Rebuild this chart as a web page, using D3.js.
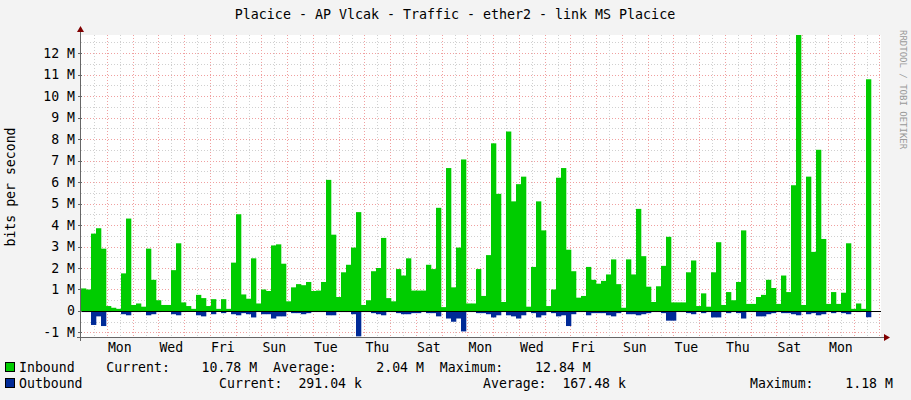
<!DOCTYPE html>
<html><head><meta charset="utf-8">
<script src="https://cdn.jsdelivr.net/npm/d3@7"></script>
<style>body{margin:0;background:#f3f3f3}text{font-family:"DejaVu Sans Mono",monospace;white-space:pre}</style>
</head><body><svg id="c" width="911" height="400"></svg>
<script>
const inbound=[1.05,1.0,3.6,3.85,2.9,0.23,0.15,0.1,1.75,4.3,
0.28,0.35,0.2,2.9,1.45,0.5,0.28,0.28,1.9,3.15,
0.4,0.23,0.1,0.75,0.6,0.23,0.55,0.1,0.55,0.1,
2.25,4.5,0.77,0.57,2.45,0.35,1.0,0.93,3.05,3.1,
2.2,0.45,1.1,1.25,1.2,1.35,0.93,0.95,1.35,6.1,
3.55,0.65,1.8,2.15,2.95,4.6,0.28,0.5,1.85,2.0,
3.4,0.6,0.45,1.95,1.65,2.45,0.95,0.95,0.95,2.15,
1.95,4.8,0.18,6.65,1.1,2.95,7.05,0.35,0.35,1.95,
0.7,2.6,7.8,5.45,0.42,8.35,5.1,5.9,6.25,0.2,
2.05,5.1,3.75,0.23,1.0,6.2,6.65,2.85,1.85,0.62,
0.7,2.05,1.45,1.27,1.4,1.7,2.4,1.25,0.15,2.4,
1.7,4.75,2.55,1.13,0.42,1.15,2.1,3.45,0.4,0.4,
0.4,1.8,2.35,0.23,0.82,0.2,1.8,3.2,0.28,0.88,
0.5,1.35,3.75,0.33,0.33,0.65,0.75,1.45,1.07,0.33,
1.65,0.88,5.85,12.84,0.28,6.25,2.75,7.5,3.35,0.33,
0.88,0.33,0.85,3.15,0.1,0.35,0.1,10.78];
const outbound=[0.05,0.05,0.65,0.25,0.7,0.05,0.03,0.03,0.15,0.2,
0.05,0.05,0.03,0.2,0.15,0.05,0.03,0.03,0.15,0.2,
0.05,0.03,0.03,0.2,0.25,0.05,0.15,0.03,0.1,0.03,
0.15,0.2,0.1,0.15,0.3,0.05,0.15,0.15,0.35,0.25,
0.25,0.05,0.1,0.1,0.15,0.1,0.05,0.05,0.05,0.2,
0.2,0.05,0.05,0.05,0.15,1.18,0.05,0.05,0.1,0.15,
0.2,0.05,0.05,0.1,0.15,0.15,0.1,0.1,0.05,0.1,
0.1,0.25,0.03,0.35,0.5,0.35,0.95,0.05,0.05,0.1,
0.1,0.15,0.3,0.2,0.05,0.2,0.25,0.35,0.2,0.05,
0.1,0.3,0.2,0.05,0.1,0.25,0.2,0.7,0.15,0.05,
0.05,0.2,0.1,0.1,0.1,0.2,0.25,0.1,0.03,0.15,
0.15,0.2,0.15,0.1,0.05,0.05,0.1,0.45,0.45,0.05,
0.05,0.1,0.15,0.03,0.1,0.05,0.3,0.3,0.05,0.1,
0.05,0.1,0.35,0.05,0.05,0.25,0.25,0.15,0.1,0.05,
0.1,0.1,0.15,0.2,0.05,0.15,0.1,0.2,0.15,0.05,
0.1,0.05,0.1,0.15,0.03,0.05,0.03,0.29];
const dayLabels=["Mon","Wed","Fri","Sun","Tue","Thu","Sat","Mon","Wed","Fri","Sun","Tue","Thu","Sat","Mon"];
const yTicks=[-1,0,1,2,3,4,5,6,7,8,9,10,11,12];
const title="Placice - AP Vlcak - Traffic - ether2 - link MS Placice";
const legendIn="Inbound    Current:    10.78 M  Average:     2.04 M  Maximum:    12.84 M";
const legendOut=["Outbound","Current:  291.04 k","Average:  167.48 k","Maximum:    1.18 M"];

const svg=d3.select("#c");
const L=81,R=881,T=35,B=337;
const totalH=745.6, firstMidnight=24.2, barH=totalH/160;
const x=d3.scaleLinear().domain([0,totalH]).range([L,R]);
const y=d3.scaleLinear().domain([-1.21,12.84]).range([B,T]);
svg.append("rect").attr("x",L).attr("y",T).attr("width",R-L).attr("height",B-T).attr("fill","#fff");
const g=svg.append("g").attr("stroke-dasharray","1,2").attr("stroke-width",1);
for(let v=-1;v<=12.5;v+=0.5){const yy=Math.round(y(v))+0.5;
 g.append("line").attr("x1",L).attr("x2",R).attr("y1",yy).attr("y2",yy).attr("stroke",Number.isInteger(v)?"#f0a0a0":"#d0d0d0");}
for(let h=firstMidnight-12;h<totalH;h+=12){const xx=Math.round(x(h))+0.5;
 const major=Math.abs(((h-firstMidnight)/24)-Math.round((h-firstMidnight)/24))<0.01;
 g.append("line").attr("x1",xx).attr("x2",xx).attr("y1",T).attr("y2",B).attr("stroke",major?"#f0a0a0":"#d0d0d0");}
svg.append("g").selectAll("rect").data(inbound).join("rect")
 .attr("x",(d,i)=>x(i*barH)).attr("width",(d,i)=>x((i+1)*barH)-x(i*barH)+0.3)
 .attr("y",d=>y(d)).attr("height",d=>y(0)-y(d)).attr("fill","#00cc00");
svg.append("g").selectAll("rect").data(outbound).join("rect")
 .attr("x",(d,i)=>x(i*barH)).attr("width",(d,i)=>x((i+1)*barH)-x(i*barH)+0.3)
 .attr("y",y(0)).attr("height",d=>y(-d)-y(0)).attr("fill","#002a97");
svg.append("line").attr("x1",L).attr("x2",R).attr("y1",Math.round(y(0))+0.5).attr("y2",Math.round(y(0))+0.5).attr("stroke","#000").attr("stroke-width",1);
svg.append("line").attr("x1",L-0.5).attr("x2",L-0.5).attr("y1",B+4).attr("y2",T-4).attr("stroke","#666");
svg.append("line").attr("x1",L-4).attr("x2",R+4).attr("y1",B+0.5).attr("y2",B+0.5).attr("stroke","#666");
svg.append("path").attr("d",`M${L-4},${T-3}L${L+3},${T-3}L${L-0.5},${T-9}Z`).attr("fill","#800000");
svg.append("path").attr("d",`M${R+3},${B-3}L${R+3},${B+4}L${R+9},${B+0.5}Z`).attr("fill","#800000");
yTicks.forEach(v=>{svg.append("line").attr("x1",L-3).attr("x2",L+1).attr("y1",Math.round(y(v))+0.5).attr("y2",Math.round(y(v))+0.5).attr("stroke","#666");
 svg.append("text").attr("x",75).attr("y",y(v)+4.5).attr("text-anchor","end").attr("font-size",13.2).attr("fill","#000").text(v===0?"0":v+" M");});
dayLabels.forEach((d,i)=>svg.append("text").attr("x",x(firstMidnight+12+i*48)).attr("y",352).attr("text-anchor","middle").attr("font-size",13.2).text(d));
svg.append("text").attr("x",455).attr("y",19).attr("text-anchor","middle").attr("font-size",13.3).text(title);
svg.append("text").attr("transform","translate(15,187) rotate(-90)").attr("text-anchor","middle").attr("font-size",13.2).text("bits per second");
svg.append("text").attr("transform","translate(900,30) rotate(90)").attr("font-size",9).attr("fill","#999").text("RRDTOOL / TOBI OETIKER");
svg.append("rect").attr("x",5.5).attr("y",362.5).attr("width",9).attr("height",9).attr("fill","#00cc00").attr("stroke","#000");
svg.append("rect").attr("x",5.5).attr("y",378.5).attr("width",9).attr("height",9).attr("fill","#002a97").attr("stroke","#000");
svg.append("text").attr("x",19).attr("y",372).attr("font-size",13.2).text(legendIn);
[19,219,483,750].forEach((xx,i)=>svg.append("text").attr("x",xx).attr("y",388).attr("font-size",13.2).text(legendOut[i]));
</script></body></html>
